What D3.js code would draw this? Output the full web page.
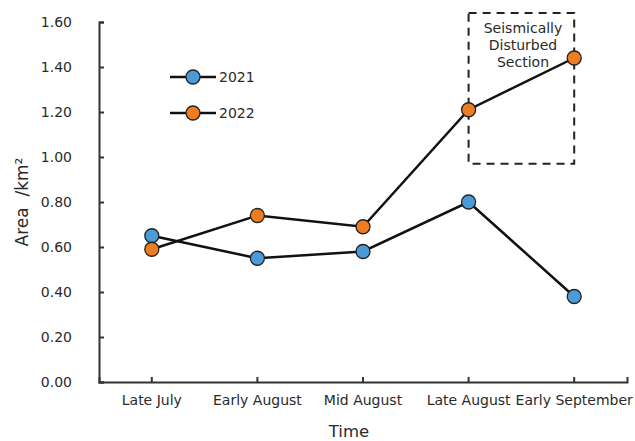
<!DOCTYPE html>
<html>
<head>
<meta charset="utf-8">
<script src="https://cdn.jsdelivr.net/npm/d3@7"></script>
<style>
  body { margin: 0; background: #fff; }
  text { font-family: "DejaVu Sans", sans-serif; fill: #2a2a2a; }
</style>
</head>
<body>
<div id="chart"></div>
<script>
// data
const periods = ["Late July", "Early August", "Mid August", "Late August", "Early September"];
const area2021 = [0.65, 0.55, 0.58, 0.80, 0.38];
const area2022 = [0.59, 0.74, 0.69, 1.21, 1.44];
const yTicks = [0, 0.2, 0.4, 0.6, 0.8, 1.0, 1.2, 1.4, 1.6];
const seriesNames = ["2021", "2022"];
const seriesColors = ["#4b9bd9", "#ee7d22"];

const width = 635, height = 441;
const margin = {top: 22, right: 8, bottom: 59, left: 99};
const fontFam = "DejaVu Sans, sans-serif";

const svg = d3.select("#chart").append("svg")
    .attr("width", width)
    .attr("height", height);

var x = d3.scaleBand()
    .domain(periods)
    .range([margin.left, width - margin.right])
    .padding(0);

var y = d3.scaleLinear()
    .domain([0, 1.6])
    .range([height - margin.bottom, margin.top]);

const cx = d => x(d) + x.bandwidth() / 2;

// y axis
var y_axis = d3.axisLeft(y)
    .tickValues(yTicks)
    .tickFormat(d3.format(".2f"))
    .tickSizeInner(-5)
    .tickSizeOuter(-5)
    .tickPadding(27);

svg.append("g")
    .attr("transform", "translate(" + margin.left + ",0)")
    .call(y_axis)
    .call(g => g.selectAll("path, line").attr("stroke", "#333").attr("stroke-width", 2))
    .call(g => g.selectAll("text").attr("font-size", 14).attr("fill", "#2a2a2a")
        .style("font-family", fontFam));

// x axis
var x_axis = d3.axisBottom(x)
    .tickSizeInner(-5)
    .tickSizeOuter(-5)
    .tickPadding(13);

svg.append("g")
    .attr("transform", "translate(0," + y(0) + ")")
    .call(x_axis)
    .call(g => g.selectAll("path, line").attr("stroke", "#333").attr("stroke-width", 2))
    .call(g => g.selectAll("text").attr("font-size", 14).attr("fill", "#2a2a2a")
        .style("font-family", fontFam));

// axis titles
svg.append("text")
    .attr("transform", "translate(28," + ((y(0) + y(1.6)) / 2) + ") rotate(-90)")
    .attr("text-anchor", "middle")
    .attr("font-size", 17)
    .text("Area\u00A0\u00A0/km²");

svg.append("text")
    .attr("x", 349)
    .attr("y", 437)
    .attr("text-anchor", "middle")
    .attr("font-size", 16.5)
    .text("Time");

// dashed box for seismically disturbed section
svg.append("rect")
    .attr("x", cx("Late August"))
    .attr("y", y(1.64))
    .attr("width", cx("Early September") - cx("Late August"))
    .attr("height", y(0.97) - y(1.64))
    .attr("fill", "none")
    .attr("stroke", "#222")
    .attr("stroke-width", 2)
    .attr("stroke-dasharray", "8,6");

const boxLabel = ["Seismically", "Disturbed", "Section"];
svg.append("g").selectAll("text")
    .data(boxLabel)
    .join("text")
    .attr("x", 523)
    .attr("y", (d, i) => 33 + i * 17)
    .attr("text-anchor", "middle")
    .attr("font-size", 14)
    .text(d => d);

// lines and markers
const series = [area2021, area2022];
var line = d3.line()
    .x((d, i) => cx(periods[i]))
    .y(d => y(d));

series.forEach((vals, s) => {
    svg.append("path")
        .datum(vals)
        .attr("d", line)
        .attr("fill", "none")
        .attr("stroke", "#111")
        .attr("stroke-width", 2.5);
});

series.forEach((vals, s) => {
    svg.append("g").selectAll("circle")
        .data(vals)
        .join("circle")
        .attr("cx", (d, i) => cx(periods[i]))
        .attr("cy", d => y(d))
        .attr("r", 7)
        .attr("fill", seriesColors[s])
        .attr("stroke", "#222")
        .attr("stroke-width", 1.3);
});

// legend
const legend = svg.append("g");
seriesNames.forEach((name, i) => {
    const ly = 77 + i * 36;
    legend.append("line")
        .attr("x1", 170).attr("x2", 216)
        .attr("y1", ly).attr("y2", ly)
        .attr("stroke", "#111")
        .attr("stroke-width", 2.5);
    legend.append("circle")
        .attr("cx", 193).attr("cy", ly)
        .attr("r", 7)
        .attr("fill", seriesColors[i])
        .attr("stroke", "#222")
        .attr("stroke-width", 1.3);
    legend.append("text")
        .attr("x", 219).attr("y", ly + 5)
        .attr("font-size", 14)
        .text(name);
});
</script>
</body>
</html>
